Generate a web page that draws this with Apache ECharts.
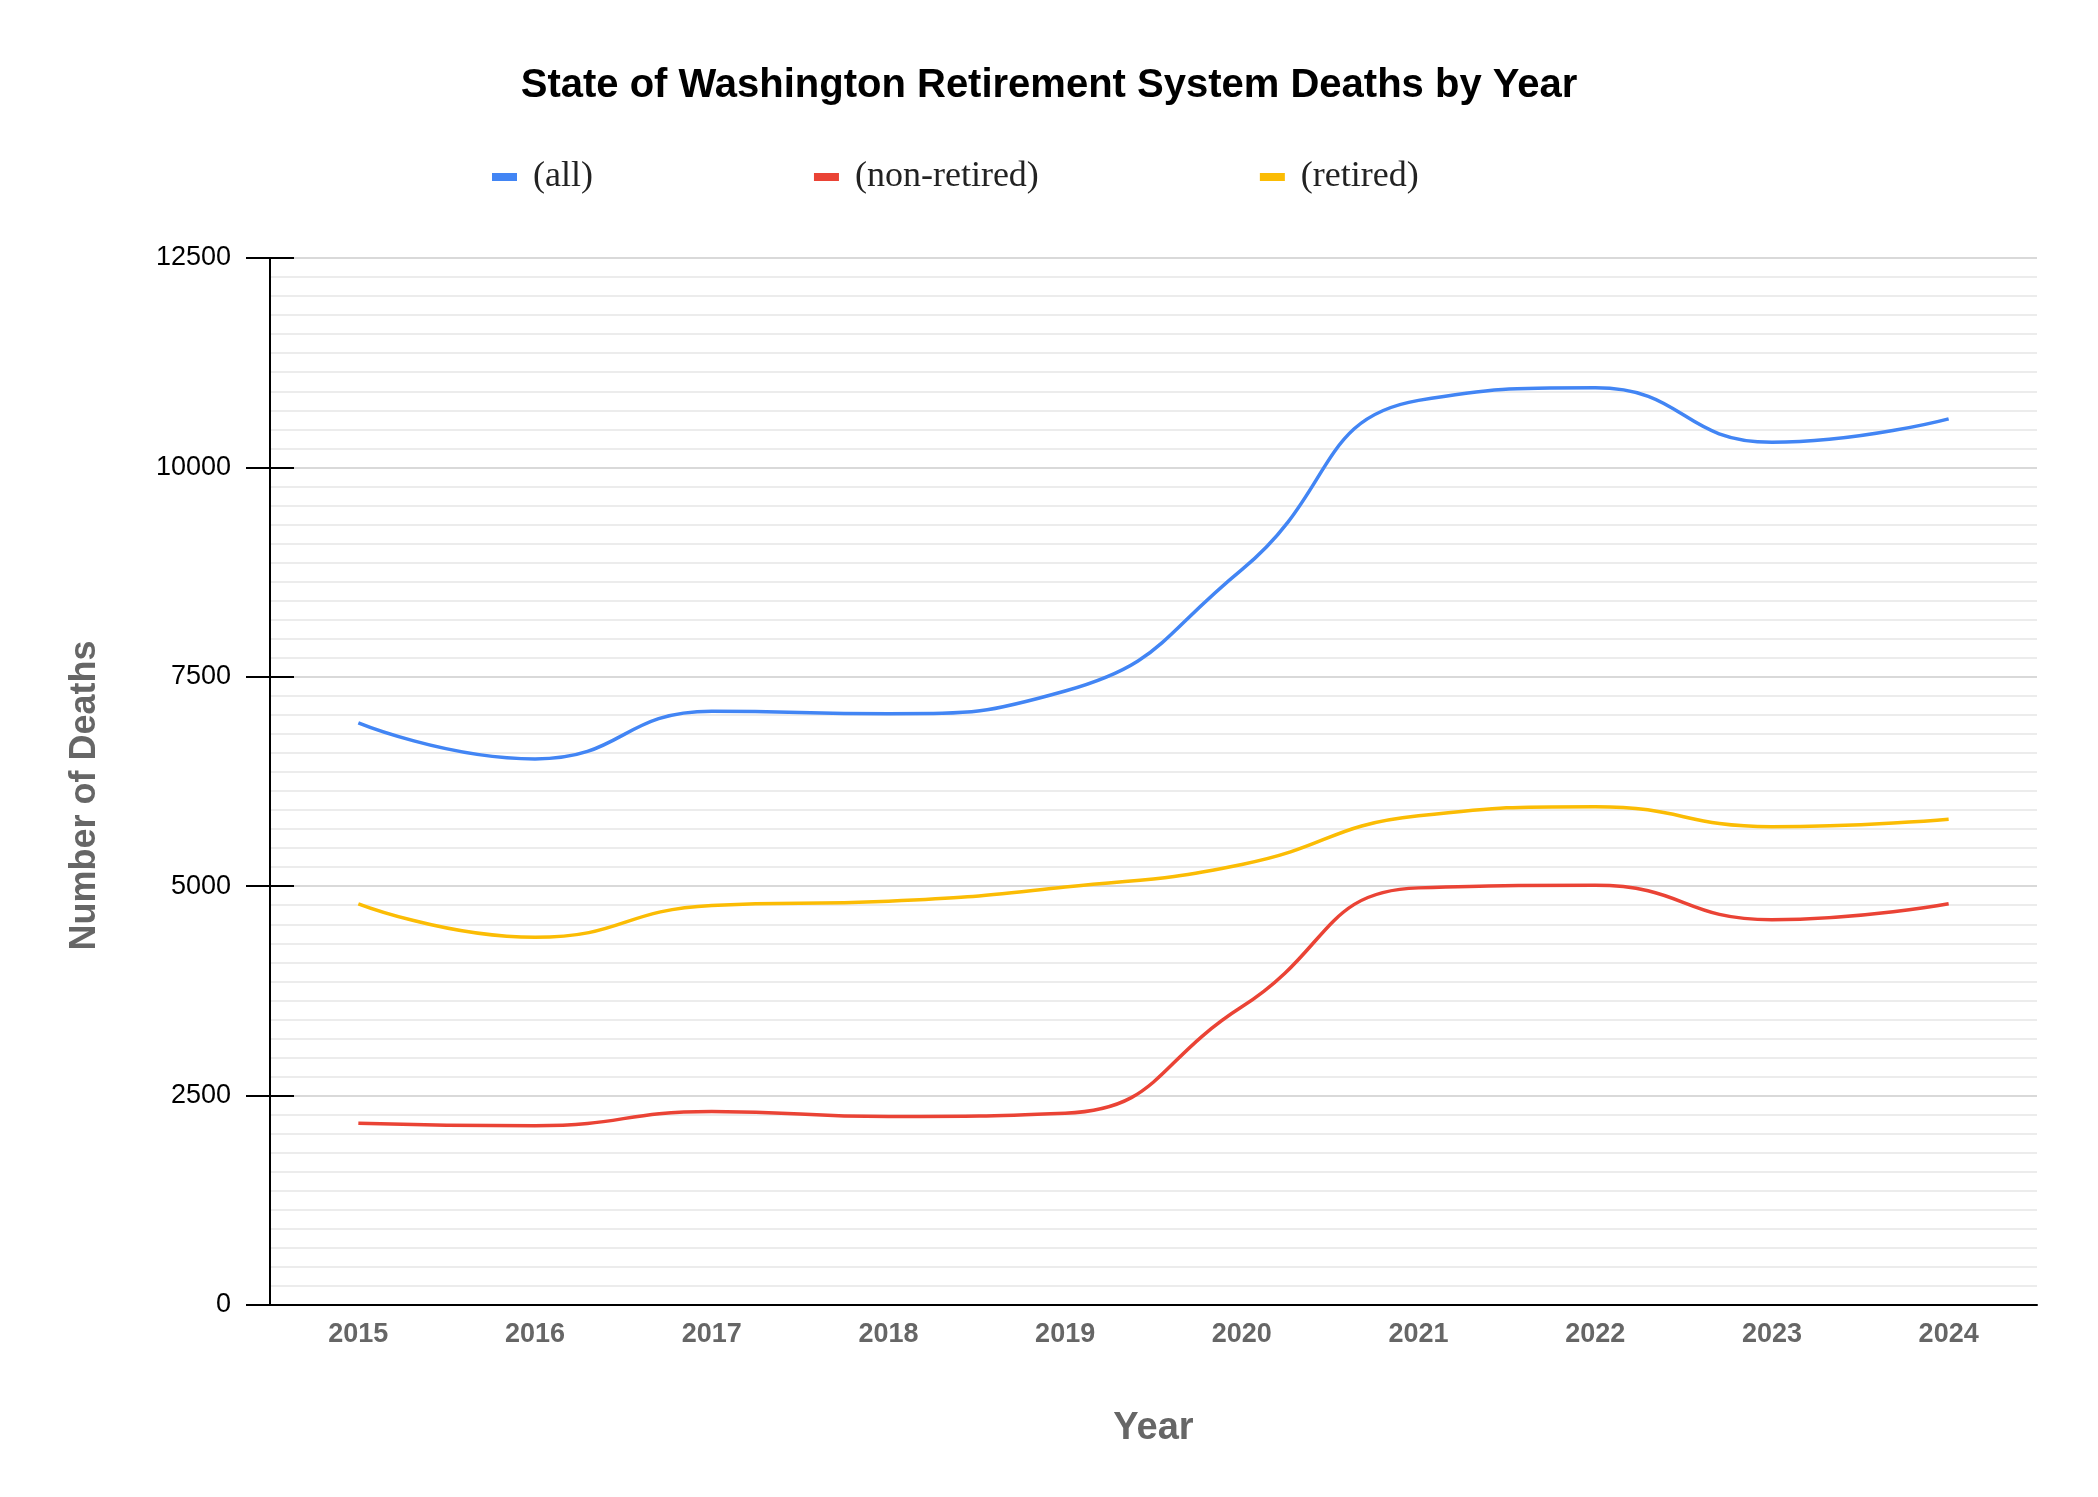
<!DOCTYPE html>
<html>
<head>
<meta charset="utf-8">
<script src="https://cdn.jsdelivr.net/npm/echarts@6/dist/echarts.min.js"></script>
<style>
html,body{margin:0;padding:0;background:#fff;}
#chart{width:2098px;height:1497px;}
</style>
</head>
<body>
<div id="chart"></div>
<script>
const years = ['2015','2016','2017','2018','2019','2020','2021','2022','2023','2024'];
const allDeaths = [6950, 6520, 7090, 7060, 7330, 8780, 10800, 10950, 10300, 10580];
const nonRetired = [2170, 2140, 2310, 2250, 2290, 3560, 4980, 5010, 4600, 4790];
const retired = [4790, 4390, 4770, 4820, 4990, 5260, 5840, 5950, 5710, 5800];
const yTicks = { min: 0, max: 12500, interval: 2500 };

const chart = echarts.init(document.getElementById('chart'));
const sans = 'Liberation Sans, Arial, sans-serif';
const serif = 'Liberation Serif, Times New Roman, serif';

const mkSeries = (name, data, color) => ({
  name: name, type: 'line', data: data, smooth: 0.5,
  showSymbol: false, symbol: 'none',
  lineStyle: { color: color, width: 3.5 }, itemStyle: { color: color },
  yAxisIndex: 0
});

chart.setOption({
  backgroundColor: '#fff',
  animation: false,
  title: {
    text: 'State of Washington Retirement System Deaths by Year',
    left: 'center', top: 66, padding: 0,
    textStyle: { fontFamily: sans, fontWeight: 'bold', fontSize: 40, color: '#000' }
  },
  legend: {
    left: 492, top: 159, padding: 0,
    itemWidth: 25, itemHeight: 8, itemGap: 221, icon: 'rect',
    textStyle: { fontFamily: serif, fontSize: 36, color: '#222', padding: [0, 0, 0, 11] },
    data: ['(all)', '(non-retired)', '(retired)']
  },
  grid: { left: 270, right: 61, top: 258, bottom: 192, containLabel: false },
  xAxis: {
    type: 'category', data: years, boundaryGap: true,
    name: 'Year', nameLocation: 'middle', nameGap: 105,
    nameTextStyle: { fontFamily: sans, fontWeight: 'bold', fontSize: 38, color: '#666' },
    axisLine: { show: true, lineStyle: { color: '#000', width: 2 } },
    axisTick: { show: false },
    axisLabel: { fontFamily: sans, fontWeight: 'bold', fontSize: 27, color: '#666', margin: 16 },
    splitLine: { show: false }
  },
  yAxis: [{
    type: 'value', min: yTicks.min, max: yTicks.max, interval: yTicks.interval,
    name: 'Number of Deaths', nameLocation: 'middle', nameGap: 167, nameRotate: 90,
    nameTextStyle: { fontFamily: sans, fontWeight: 'bold', fontSize: 36, color: '#666', padding: [0, 28, 0, 0] },
    axisLine: { show: true, lineStyle: { color: '#000', width: 2 } },
    axisTick: { show: true, inside: false, length: 24, lineStyle: { color: '#000', width: 2 } },
    axisLabel: { fontFamily: sans, fontSize: 27, color: '#000', margin: 39, formatter: v => String(v) },
    splitLine: { show: true, lineStyle: { color: '#cccccc', width: 1.5 } },
    minorTick: { show: false, splitNumber: 11 },
    minorSplitLine: { show: true, lineStyle: { color: '#e6e6e6', width: 1.5 } }
  }, {
    type: 'value', min: yTicks.min, max: yTicks.max, interval: yTicks.interval,
    position: 'left',
    axisLine: { show: false },
    axisTick: { show: true, inside: true, length: 24, lineStyle: { color: '#000', width: 2 } },
    axisLabel: { show: false },
    splitLine: { show: false }
  }],
  series: [
    mkSeries('(all)', allDeaths, '#4285F4'),
    mkSeries('(non-retired)', nonRetired, '#EA4335'),
    mkSeries('(retired)', retired, '#FBBC04')
  ]
});
</script>
</body>
</html>
